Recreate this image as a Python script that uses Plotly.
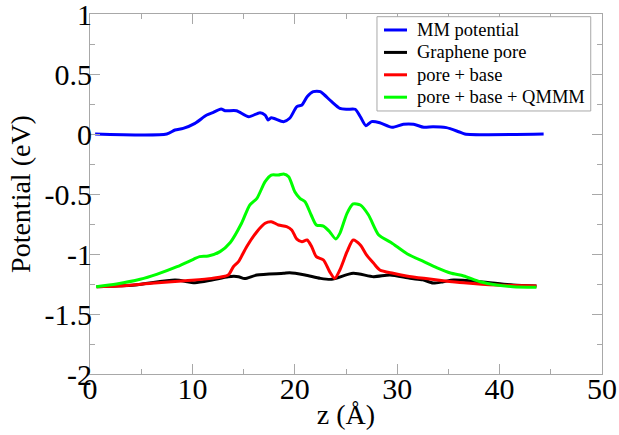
import plotly.graph_objects as go

# MM potential
mm_z = [0.5, 7.5, 8.3, 9.1, 10.25, 11.4, 12.0, 12.8, 13.2, 14.3, 15.5, 16.6, 17.1, 17.4, 17.7,
        18.9, 19.5, 20.2, 20.7, 21.2, 21.8, 22.5, 22.9, 23.6, 24.4, 25.1, 25.9, 26.4, 26.95,
        27.5, 28.3, 29.5, 30.6, 31.6, 32.6, 33.5, 34.8, 36.0, 36.6, 44.3]
mm_v = [0, 0, 0.033, 0.047, 0.089, 0.158, 0.178, 0.208, 0.194, 0.194, 0.144, 0.178, 0.158, 0.117, 0.136,
        0.103, 0.131, 0.228, 0.242, 0.311, 0.353, 0.353, 0.325, 0.269, 0.214, 0.206, 0.206, 0.144, 0.069,
        0.103, 0.094, 0.056, 0.081, 0.081, 0.056, 0.061, 0.053, 0.019, 0, 0]

# Graphene pore
gp_z = [0.65, 4.4, 8.3, 10.25, 11.9, 13.5, 14.5, 15.1, 16.3, 18.9, 19.5, 21.0, 22.5, 23.6, 25.7,
        27.7, 29.3, 31.25, 32.5, 33.5, 34.5, 35.5, 38.1, 41.3, 43.6]
gp_v = [-1.272, -1.258, -1.217, -1.239, -1.217, -1.189, -1.189, -1.205, -1.175, -1.161, -1.156, -1.175,
        -1.203, -1.211, -1.161, -1.189, -1.175, -1.203, -1.215, -1.242, -1.231, -1.217, -1.231, -1.258, -1.267]

# pore + base
pb_z = [0.65, 2.8, 6.0, 9.3, 11.9, 13.5, 14.0, 14.5, 15.3, 16.3, 17.1, 17.7, 18.4, 19.2, 19.7, 20.2,
        20.7, 21.2, 21.65, 22.1, 22.8, 23.4, 23.9, 24.4, 25.1, 25.7, 26.4, 27.0, 27.7, 28.3, 29.6,
        30.9, 32.6, 34.5, 36.5, 39.7, 43.6]
pb_v = [-1.272, -1.267, -1.244, -1.222, -1.203, -1.175, -1.106, -1.064, -0.939, -0.814, -0.744, -0.731,
        -0.758, -0.772, -0.8, -0.876, -0.897, -0.883, -0.939, -1.022, -1.05, -1.147, -1.203, -1.133,
        -0.981, -0.883, -0.925, -1.008, -1.078, -1.133, -1.161, -1.183, -1.203, -1.222, -1.239, -1.258, -1.267]

# pore + base + QMMM
qm_z = [0.6, 2.6, 4.9, 6.5, 8.5, 10.1, 10.7, 11.55, 12.7, 13.7, 14.8, 15.6, 16.3, 17.1, 17.7, 18.4,
        18.9, 19.4, 20.0, 20.5, 21.0, 21.6, 22.1, 22.8, 23.4, 24.0, 24.4, 25.1, 25.7, 26.4, 27.2,
        28.2, 29.4, 31.0, 32.6, 33.9, 35.2, 36.5, 38.1, 39.7, 41.3, 43.6]
qm_v = [-1.272, -1.25, -1.211, -1.17, -1.106, -1.044, -1.022, -1.017, -0.98, -0.904, -0.744, -0.592,
        -0.536, -0.397, -0.342, -0.342, -0.333, -0.356, -0.481, -0.536, -0.564, -0.675, -0.758, -0.767,
        -0.814, -0.875, -0.828, -0.661, -0.583, -0.592, -0.675, -0.842, -0.904, -1.0, -1.064, -1.115,
        -1.158, -1.183, -1.231, -1.258, -1.272, -1.278]

series_names = ["MM potential", "Graphene pore", "pore + base", "pore + base + QMMM"]
series_colors = ["#0000ff", "#000000", "#ff0000", "#00ff00"]

x_tickvals = [0, 10, 20, 30, 40, 50]
x_ticktext = ["0", "10", "20", "30", "40", "50"]
y_tickvals = [1, 0.5, 0, -0.5, -1, -1.5, -2]
y_ticktext = ["1", "0.5", "0", "-0.5", "-1", "-1.5", "-2"]

fig = go.Figure()
for zs, vs, name, col in zip([mm_z, gp_z, pb_z, qm_z], [mm_v, gp_v, pb_v, qm_v], series_names, series_colors):
    fig.add_trace(go.Scatter(x=zs, y=vs, mode="lines", name=name, showlegend=False,
                             line=dict(color=col, width=3, shape="spline", smoothing=0.7)))

axis_color = "#a8a8a8"
font_family = "Liberation Serif, Times New Roman, serif"

# Legend box drawn in paper coordinates (upper right of the plot area)
leg_x0, leg_x1, leg_y0, leg_y1 = 0.5605, 0.978, 0.7306, 0.9925
row_y = [0.9556, 0.8933, 0.8311, 0.7689]
shapes = [dict(type="rect", xref="paper", yref="paper", x0=leg_x0, x1=leg_x1, y0=leg_y0, y1=leg_y1,
               line=dict(color=axis_color, width=1), fillcolor="white", layer="above")]
annotations = []
for name, col, ry in zip(series_names, series_colors, row_y):
    shapes.append(dict(type="line", xref="paper", yref="paper", x0=0.5742, x1=0.6191, y0=ry, y1=ry,
                       line=dict(color=col, width=3), layer="above"))
    annotations.append(dict(text=name, xref="paper", yref="paper", x=0.634, y=ry,
                            xanchor="left", yanchor="middle", showarrow=False,
                            font=dict(family=font_family, size=18.5, color="black")))

fig.update_layout(
    width=619, height=435,
    margin=dict(l=90, r=17, t=14, b=61),
    paper_bgcolor="white", plot_bgcolor="white",
    font=dict(family=font_family, color="black", size=28),
    showlegend=False,
    shapes=shapes, annotations=annotations,
    xaxis=dict(range=[0, 50], tickvals=x_tickvals, ticktext=x_ticktext, automargin=False,
               showgrid=False, zeroline=False, showline=True, linecolor=axis_color, linewidth=1,
               mirror="ticks", ticks="inside", ticklen=10, tickcolor=axis_color, tickwidth=1,
               minor=dict(dtick=5, tick0=0, ticks="inside", ticklen=5, tickcolor=axis_color, showgrid=False),
               tickfont=dict(size=30), ticklabelstandoff=-12, ticklabeloverflow="allow",
               title=dict(text="z (Å)", font=dict(size=28), standoff=0)),
    yaxis=dict(range=[-2, 1], tickvals=y_tickvals, ticktext=y_ticktext, automargin=False,
               showgrid=False, zeroline=False, showline=True, linecolor=axis_color, linewidth=1,
               mirror="ticks", ticks="inside", ticklen=10, tickcolor=axis_color, tickwidth=1,
               minor=dict(dtick=0.25, tick0=0, ticks="inside", ticklen=5, tickcolor=axis_color, showgrid=False),
               tickfont=dict(size=30), ticklabelstandoff=-9, ticklabeloverflow="allow",
               title=dict(text="Potential (eV)", font=dict(size=28), standoff=5)),
)

fig.write_html("out.html", config={"displayModeBar": False},
               post_script="document.body.style.margin='0px';")
